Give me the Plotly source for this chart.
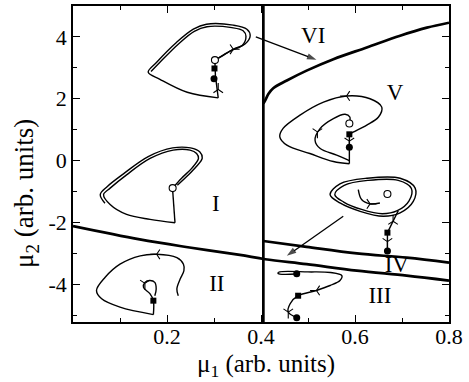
import plotly.graph_objects as go

# ---------------- data ----------------
# region boundaries
sepA_x = [0.0, 0.142, 0.248, 0.355, 0.409, 0.497, 0.604, 0.71, 0.8]
sepA_y = [-2.12, -2.55, -2.81, -3.05, -3.19, -3.35, -3.56, -3.72, -3.88]
sepB_x = [0.405, 0.497, 0.604, 0.71, 0.8]
sepB_y = [-2.6, -2.79, -3.0, -3.14, -3.3]
sepC_x = [0.405, 0.409, 0.416, 0.426, 0.455, 0.497, 0.554, 0.625, 0.696, 0.753, 0.8]
sepC_y = [1.85, 1.95, 2.16, 2.34, 2.59, 2.91, 3.28, 3.66, 4.04, 4.3, 4.46]
vline_x = [0.405, 0.405]
vline_y = [-5.22, 5.0]

# trajectory in region I (top)
t1_x = [0.302, 0.315, 0.341, 0.366, 0.377, 0.37, 0.341, 0.284, 0.256, 0.22, 0.178, 0.16, 0.185, 0.243, 0.309]
t1_y = [3.25, 3.36, 3.6, 3.77, 4.04, 4.25, 4.38, 4.41, 4.25, 3.82, 3.18, 2.86, 2.63, 2.21, 2.03]
t1b_x = [0.31, 0.335, 0.36, 0.368, 0.362, 0.338, 0.285, 0.258, 0.225, 0.185, 0.166]
t1b_y = [3.32, 3.55, 3.72, 4.02, 4.2, 4.3, 4.33, 4.18, 3.78, 3.18, 2.88]
t1v_x = [0.309, 0.306, 0.303, 0.302]
t1v_y = [2.03, 2.4, 2.75, 3.2]

# trajectory in region I (middle)
t2_x = [0.212, 0.231, 0.2525, 0.267, 0.263, 0.249, 0.213, 0.164, 0.114, 0.079, 0.065, 0.079, 0.114, 0.164, 0.217]
t2_y = [-0.89, -0.57, -0.25, 0.07, 0.23, 0.34, 0.34, 0.07, -0.46, -0.89, -1.1, -1.42, -1.74, -1.9, -2.01]
t2b_x = [0.222, 0.243, 0.262, 0.275, 0.27, 0.25, 0.212, 0.16, 0.108, 0.072, 0.058, 0.068]
t2b_y = [-0.8, -0.5, -0.2, 0.08, 0.28, 0.41, 0.41, 0.13, -0.42, -0.85, -1.1, -1.38]
t2v_x = [0.217, 0.215, 0.213, 0.212]
t2v_y = [-2.01, -1.6, -1.3, -0.95]

# trajectory in region II
t3_x = [0.224, 0.221, 0.228, 0.236, 0.235, 0.221, 0.178, 0.143, 0.1, 0.068, 0.05, 0.061, 0.1, 0.171]
t3_y = [-4.37, -4.15, -3.83, -3.56, -3.35, -3.14, -3.03, -3.08, -3.35, -3.78, -4.2, -4.47, -4.74, -4.98]
t3v_x = [0.171, 0.171, 0.164, 0.15, 0.153, 0.164, 0.174, 0.177, 0.174]
t3v_y = [-4.98, -4.53, -4.31, -4.1, -3.94, -3.88, -3.94, -4.15, -4.37]

# trajectory in region V
t4_x = [0.588, 0.554, 0.504, 0.455, 0.44, 0.447, 0.483, 0.533, 0.582, 0.632, 0.657, 0.65, 0.625, 0.596, 0.588]
t4_y = [-0.1, -0.03, 0.23, 0.5, 0.77, 1.04, 1.47, 1.89, 2.09, 2.0, 1.73, 1.41, 1.15, 0.92, 0.85]
t4i_x = [0.588, 0.589, 0.579, 0.554, 0.526, 0.515, 0.526, 0.561, 0.588]
t4i_y = [1.22, 1.41, 1.5, 1.36, 1.04, 0.66, 0.39, 0.18, 0.0]
t4v_x = [0.588, 0.588, 0.588]
t4v_y = [0.85, 0.43, -0.1]

# trajectory in region IV
t5a_x = [0.547, 0.568, 0.625, 0.696, 0.728, 0.724, 0.696, 0.66, 0.611, 0.568, 0.547]
t5a_y = [-1.1, -0.75, -0.57, -0.57, -0.89, -1.32, -1.69, -1.8, -1.64, -1.37, -1.1]
t5b_x = [0.557, 0.577, 0.628, 0.692, 0.72, 0.715, 0.69, 0.658, 0.614, 0.576, 0.557]
t5b_y = [-1.1, -0.8, -0.64, -0.64, -0.9, -1.3, -1.62, -1.72, -1.58, -1.34, -1.1]
t5i_x = [0.607, 0.614, 0.632, 0.653]
t5i_y = [-0.94, -1.26, -1.4, -1.37]
t5v_x = [0.692, 0.681, 0.669, 0.669]
t5v_y = [-1.62, -1.96, -2.33, -2.92]

# trajectory in region III
t6_x = [0.476, 0.44, 0.436, 0.44, 0.5, 0.548, 0.572, 0.568, 0.547, 0.518, 0.479, 0.462, 0.458, 0.476]
t6_y = [-3.67, -3.67, -3.64, -3.6, -3.6, -3.62, -3.72, -3.88, -4.04, -4.2, -4.37, -4.63, -4.9, -5.08]

# fixed points
stable_x = [0.300, 0.588, 0.669, 0.476, 0.476]
stable_y = [2.65, 0.43, -2.92, -5.08, -3.66]
saddle_x = [0.301, 0.588, 0.669, 0.479, 0.171]
saddle_y = [2.98, 0.85, -2.33, -4.37, -4.53]
unstable_x = [0.302, 0.212, 0.588, 0.669]
unstable_y = [3.25, -0.89, 1.2, -1.08]

# small direction marks on the trajectories
dir_x = [0.309, 0.341, 0.178, 0.582, 0.52, 0.588, 0.632, 0.681, 0.669, 0.518, 0.458, 0.153]
dir_y = [2.3, 3.6, -3.03, 2.09, 0.93, 0.63, -1.4, -1.96, -2.62, -4.2, -4.9, -3.97]
dir_sym = ["y-up-open", "y-right-open", "y-left-open", "y-left-open", "y-down-open", "y-down-open",
           "y-right-open", "y-up-open", "y-down-open", "y-left-open", "y-down-open", "y-down-open"]

region_labels = ["VI", "V", "I", "II", "IV", "III"]
region_x = [0.511, 0.685, 0.304, 0.306, 0.689, 0.653]
region_y = [3.98, 2.16, -1.44, -4.04, -3.42, -4.42]

arrow1_x = [0.389, 0.518]
arrow1_y = [4.0, 3.26]
arrow2_x = [0.575, 0.455]
arrow2_y = [-1.8, -3.08]

xtick_vals = [0.2, 0.4, 0.6, 0.8]
xtick_text = ["0.2", "0.4", "0.6", "0.8"]
ytick_vals = [-4, -2, 0, 2, 4]
ytick_text = ["-4", "-2", "0", "2", "4"]

# ---------------- figure ----------------
fig = go.Figure()
FONT = "Liberation Serif"

def line(x, y, w=1.4, shape="spline"):
    fig.add_trace(go.Scatter(x=x, y=y, mode="lines", line=dict(color="black", width=w, shape=shape),
                             hoverinfo="skip", showlegend=False))

for xs, ys in [(sepA_x, sepA_y), (sepB_x, sepB_y), (sepC_x, sepC_y)]:
    line(xs, ys, 2.7)
line(vline_x, vline_y, 2.7, "linear")

for xs, ys in [(t1_x, t1_y), (t1b_x, t1b_y), (t2_x, t2_y), (t2b_x, t2b_y), (t3_x, t3_y), (t3v_x, t3v_y),
               (t4_x, t4_y), (t4i_x, t4i_y), (t5a_x, t5a_y), (t5b_x, t5b_y), (t5i_x, t5i_y), (t6_x, t6_y)]:
    line(xs, ys, 1.4)
for xs, ys in [(t1v_x, t1v_y), (t2v_x, t2v_y), (t4v_x, t4v_y), (t5v_x, t5v_y)]:
    line(xs, ys, 1.4, "linear")

# pointer arrows
for ax_, ay_ in [(arrow1_x, arrow1_y), (arrow2_x, arrow2_y)]:
    fig.add_trace(go.Scatter(x=ax_, y=ay_, mode="lines+markers",
                             line=dict(color="black", width=1.3),
                             marker=dict(symbol=["circle", "arrow"], size=[0, 10], angleref="previous",
                                         color="black", line=dict(width=0)),
                             hoverinfo="skip", showlegend=False))

fig.add_trace(go.Scatter(x=dir_x, y=dir_y, mode="markers",
                         marker=dict(symbol=dir_sym, size=8, color="black", line=dict(width=1.1, color="black")),
                         hoverinfo="skip", showlegend=False))

fig.add_trace(go.Scatter(x=stable_x, y=stable_y, mode="markers",
                         marker=dict(symbol="circle", size=7, color="black"), showlegend=False))
fig.add_trace(go.Scatter(x=saddle_x, y=saddle_y, mode="markers",
                         marker=dict(symbol="square", size=6, color="black"), showlegend=False))
fig.add_trace(go.Scatter(x=unstable_x, y=unstable_y, mode="markers",
                         marker=dict(symbol="circle", size=7, color="white", line=dict(width=1.1, color="black")),
                         showlegend=False))

fig.add_trace(go.Scatter(x=region_x, y=region_y, mode="text", text=region_labels,
                         textfont=dict(family=FONT, size=23, color="black"),
                         hoverinfo="skip", showlegend=False))

# axis titles (placed as annotations to match the reference position)
fig.add_annotation(text="μ<sub>1</sub> (arb. units)", xref="paper", yref="paper", x=0.512, y=-0.137,
                   xanchor="center", yanchor="middle", showarrow=False,
                   font=dict(family=FONT, size=25, color="black"))
fig.add_annotation(text="μ<sub>2</sub> (arb. units)", xref="paper", yref="paper", x=-0.125, y=0.405,
                   xanchor="center", yanchor="middle", textangle=-90, showarrow=False,
                   font=dict(family=FONT, size=27, color="black"))

axis_common = dict(showline=True, linecolor="black", linewidth=1.5, mirror="ticks", ticks="inside",
                   ticklen=7, tickwidth=1, tickcolor="black", showgrid=False, zeroline=False,
                   tickfont=dict(family=FONT, size=22, color="black"))
fig.update_xaxes(range=[0, 0.8], tickvals=xtick_vals, ticktext=xtick_text, ticklabelstandoff=-6,
                 minor=dict(ticks="inside", dtick=0.1, ticklen=4, tickcolor="black", showgrid=False),
                 **axis_common)
fig.update_yaxes(range=[-5.22, 5.0], tickvals=ytick_vals, ticktext=ytick_text,
                 minor=dict(ticks="inside", dtick=1, ticklen=4, tickcolor="black", showgrid=False),
                 **axis_common)
fig.update_layout(width=469, height=382, margin=dict(l=73, r=20, t=4, b=60),
                  plot_bgcolor="white", paper_bgcolor="white")
fig.write_html("out.html")
